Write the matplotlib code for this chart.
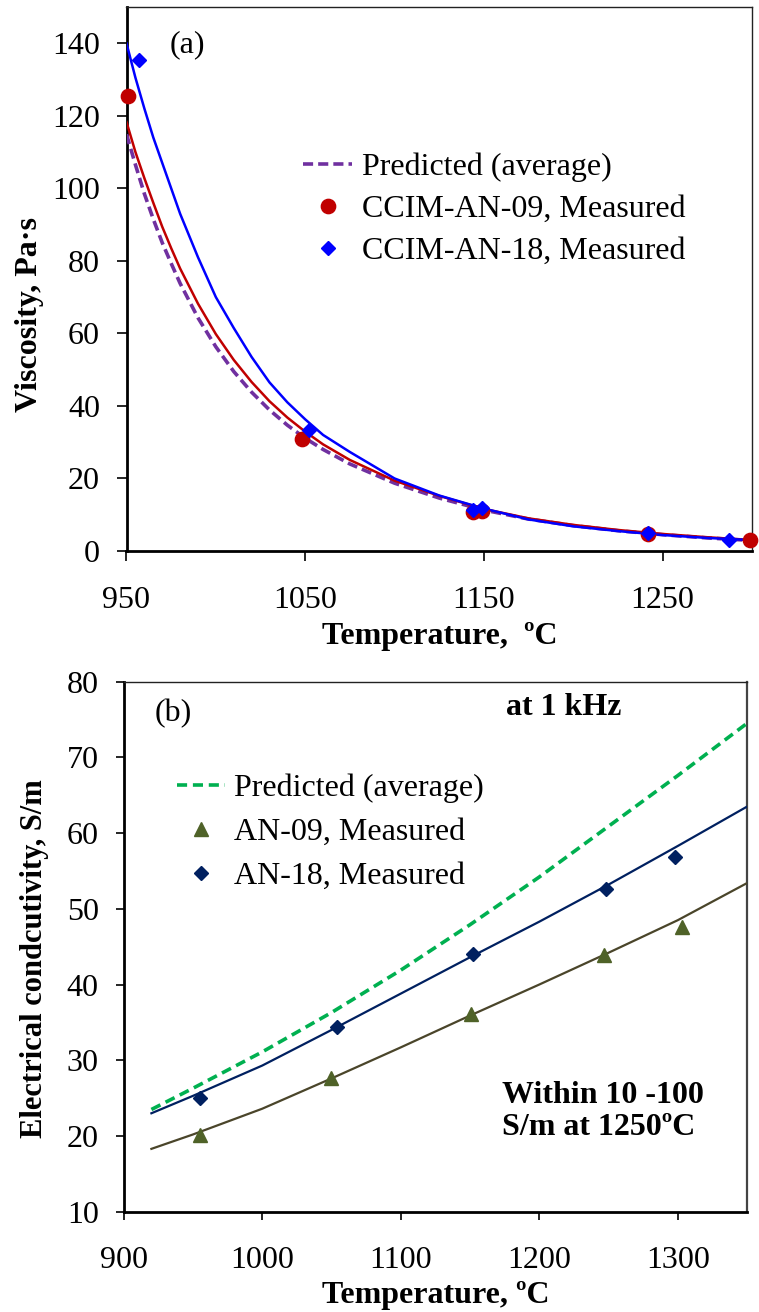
import matplotlib
matplotlib.use("Agg")
import matplotlib.pyplot as plt

plt.rcParams['font.family'] = ['Liberation Serif', 'DejaVu Serif']

# ---------------- Panel (a): viscosity ----------------
visc_T_curve = [950, 955, 960, 965, 970, 975, 980, 990, 1000, 1010, 1020, 1030, 1040, 1050,
                1060, 1075, 1100, 1125, 1150, 1175, 1200, 1225, 1250, 1275, 1300]
visc_pred = [114.9, 106.5, 98.5, 91.5, 85.0, 79.3, 73.8, 64.3, 56.3, 49.5, 43.8, 38.9,
             34.7, 31.1, 28.0, 24.0, 18.7, 14.6, 11.3, 8.8, 7.0, 5.6, 4.5, 3.6, 2.9]
visc_fit09 = [118.3, 110.0, 102.8, 96.0, 89.4, 83.5, 77.9, 68.2, 59.8, 52.7, 46.6, 41.3,
              36.8, 32.9, 29.4, 25.1, 19.4, 15.2, 11.6, 9.0, 7.2, 5.8, 4.7, 3.8, 3.0]
visc_fit18 = [140.0, 130.5, 122.0, 114.0, 107.0, 100.0, 93.0, 81.0, 70.0, 61.5, 53.5, 46.5,
              41.0, 36.3, 32.0, 27.3, 20.0, 15.3, 11.7, 8.7, 6.8, 5.5, 4.4, 3.6, 3.0]

an09_T = [951, 1048, 1144, 1149, 1242, 1299]
an09_visc = [125.5, 30.8, 10.8, 11.1, 4.8, 2.9]
an18_T = [957, 1052, 1144, 1149, 1242, 1287]
an18_visc = [135.4, 33.4, 11.3, 11.8, 5.0, 3.0]

# ---------------- Panel (b): conductivity ----------------
cond_T_curve = [920, 950, 1000, 1050, 1100, 1150, 1200, 1250, 1300, 1350]
cond_pred = [23.5, 26.3, 31.1, 36.3, 41.9, 47.9, 54.2, 60.9, 67.6, 74.5]
cond_fit18 = [23.0, 25.3, 29.3, 34.0, 38.8, 43.6, 48.3, 53.2, 58.3, 63.5]
cond_fit09 = [18.3, 20.2, 23.6, 27.6, 31.7, 35.9, 40.0, 44.2, 48.5, 53.4]

c09_T = [955, 1050, 1151, 1247, 1303]
c09_val = [20.1, 27.6, 36.1, 43.9, 47.6]
c18_T = [955, 1054, 1152, 1248, 1298]
c18_val = [25.0, 34.4, 44.1, 52.6, 56.9]

W, H = 759, 1312
fig = plt.figure(figsize=(W / 100, H / 100), dpi=100)

def axrect(l, t, r, b):
    return [l / W, 1 - b / H, (r - l) / W, (b - t) / H]

FS = 23

# ---- top axes ----
ax1 = fig.add_axes(axrect(126.5, 7, 752, 551))
ax1.plot(visc_T_curve, visc_pred, color='#7030A0', lw=2.6, dashes=(2.8, 1.4),
         label='Predicted (average)', zorder=3)
ax1.plot(visc_T_curve, visc_fit09, color='#C00000', lw=1.8, zorder=4)
ax1.plot(visc_T_curve, visc_fit18, color='#0000FF', lw=1.8, zorder=5)
ax1.plot(an09_T, an09_visc, 'o', color='#C00000', ms=10.3, mec='#C00000',
         label='CCIM-AN-09, Measured', zorder=6, clip_on=False)
ax1.plot(an18_T, an18_visc, 'D', color='#0000FF', ms=7.2, mec='#0000FF',
         label='CCIM-AN-18, Measured', zorder=7, clip_on=False)
ax1.set_xlim(950, 1300)
ax1.set_ylim(0, 150)
ax1.set_xticks([950, 1050, 1150, 1250])
ax1.set_yticks(range(0, 141, 20))
ax1.tick_params(axis='x', direction='out', length=7, width=1.2, labelsize=FS, pad=18)
ax1.tick_params(axis='y', direction='out', length=7, width=1.2, labelsize=FS, pad=12)
for s in ['left', 'bottom']:
    ax1.spines[s].set_linewidth(2.0)
for s in ['top', 'right']:
    ax1.spines[s].set_linewidth(1.0)
    ax1.spines[s].set_color('#222222')
ax1.set_xlabel('Temperature,  ºC', fontsize=FS, fontweight='bold', va='center')
ax1.xaxis.set_label_coords(0.5, -0.157)
ax1.set_ylabel('Viscosity, Pa·s', fontsize=FS, fontweight='bold', va='center')
ax1.yaxis.set_label_coords(-0.155, 0.435)
ax1.text(0.069, 0.93, '(a)', transform=ax1.transAxes, fontsize=FS, va='center', ha='left')
leg1 = ax1.legend(loc='upper left', bbox_to_anchor=(0.282, 0.7325), frameon=False,
                  fontsize=FS, handlelength=1.55, handletextpad=0.3, labelspacing=0.40,
                  borderpad=0, borderaxespad=0)

# ---- bottom axes ----
ax2 = fig.add_axes(axrect(123.7, 681.7, 747, 1211.7))
ax2.plot(cond_T_curve, cond_pred, color='#00B050', lw=2.6, dashes=(2.8, 1.6),
         label='Predicted (average)', zorder=3)
ax2.plot(cond_T_curve, cond_fit18, color='#002060', lw=1.6, zorder=4)
ax2.plot(cond_T_curve, cond_fit09, color='#4A452A', lw=1.6, zorder=4)
ax2.plot(c09_T, c09_val, '^', color='#4F6228', ms=10, mec='#4F6228',
         label='AN-09, Measured', zorder=6)
ax2.plot(c18_T, c18_val, 'D', color='#002060', ms=7.4, mec='#002060',
         label='AN-18, Measured', zorder=6)
ax2.set_xlim(900, 1350)
ax2.set_ylim(10, 80)
ax2.set_xticks(range(900, 1301, 100))
ax2.set_yticks(range(10, 81, 10))
ax2.tick_params(axis='x', direction='out', length=6, width=1.2, labelsize=FS, pad=19)
ax2.tick_params(axis='y', direction='out', length=6, width=1.2, labelsize=FS, pad=12)
for s in ['left', 'bottom']:
    ax2.spines[s].set_linewidth(2.0)
ax2.spines['top'].set_linewidth(1.0)
ax2.spines['top'].set_color('#222222')
ax2.spines['right'].set_linewidth(1.6)
ax2.spines['right'].set_color('#444444')
ax2.set_xlabel('Temperature, ºC', fontsize=FS, fontweight='bold', va='center')
ax2.xaxis.set_label_coords(0.5, -0.158)
ax2.set_ylabel('Electrical condcutivity, S/m', fontsize=22, fontweight='bold', va='center')
ax2.yaxis.set_label_coords(-0.143, 0.478)
ax2.text(0.05, 0.94, '(b)', transform=ax2.transAxes, fontsize=FS, va='center', ha='left')
ax2.text(0.7056, 0.952, 'at 1 kHz', transform=ax2.transAxes, fontsize=FS,
         fontweight='bold', va='center', ha='center')
ax2.text(0.607, 0.189, 'Within 10 -100\nS/m at 1250ºC', transform=ax2.transAxes,
         fontsize=FS, fontweight='bold', va='center', ha='left', linespacing=1.1)
leg2 = ax2.legend(loc='upper left', bbox_to_anchor=(0.085, 0.827), frameon=False,
                  fontsize=FS, handlelength=1.5, handletextpad=0.3, labelspacing=0.46,
                  borderpad=0, borderaxespad=0)

fig.savefig('out.png', dpi=100)
